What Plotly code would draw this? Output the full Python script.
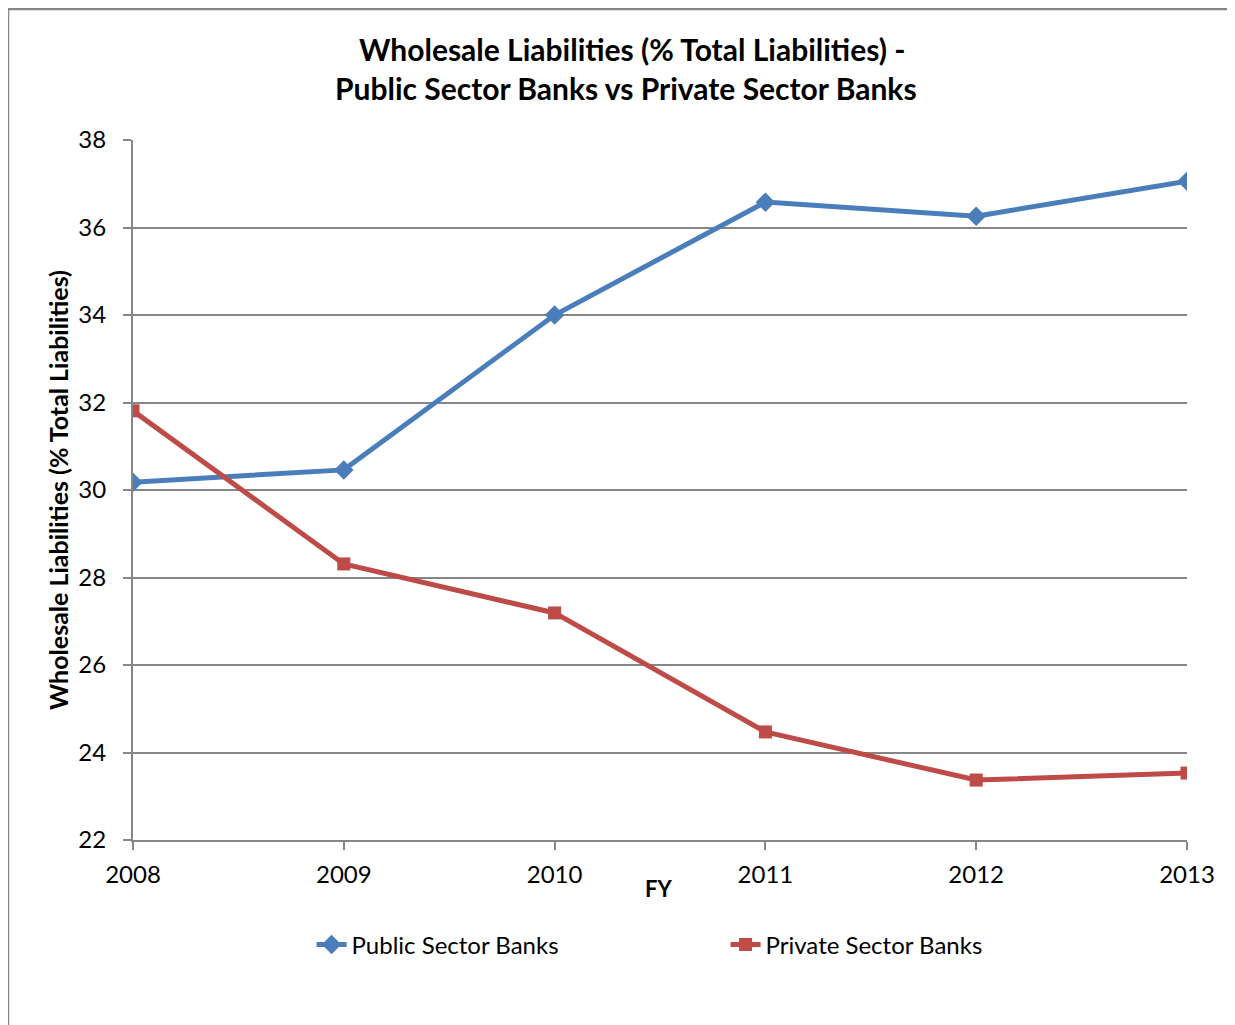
import plotly.graph_objects as go

years = [2008, 2009, 2010, 2011, 2012, 2013]
public_sector = [30.18, 30.46, 34.0, 36.58, 36.26, 37.06]
private_sector = [31.81, 28.31, 27.19, 24.47, 23.37, 23.53]
y_ticks = [22, 24, 26, 28, 30, 32, 34, 36, 38]

FONT = "Lato"
OFF = 8  # page body margin
W, H = 1235 - OFF, 1025 - OFF
L, T = 133 - OFF, 140 - OFF
R = W - (1187 - OFF)
B = H - (840 - OFF)
pw, ph = W - L - R, H - T - B

def px(x):
    return (x - OFF - L) / pw

def py(y):
    return (H - B - (y - OFF)) / ph

fig = go.Figure()
fig.add_trace(go.Scatter(
    x=years, y=public_sector, name="Public Sector Banks", mode="lines+markers",
    line=dict(color="#4A7EBB", width=5),
    marker=dict(symbol="diamond", size=15, color="#4A7EBB"),
))
fig.add_trace(go.Scatter(
    x=years, y=private_sector, name="Private Sector Banks", mode="lines+markers",
    line=dict(color="#BE4B48", width=5),
    marker=dict(symbol="square", size=13, color="#BE4B48"),
))

grid = "#868686"
fig.update_layout(
    width=W, height=H,
    margin=dict(l=L, r=R, t=T, b=B),
    plot_bgcolor="white", paper_bgcolor="white",
    font=dict(family=FONT, size=24, color="black"),
    showlegend=True,
    legend=dict(orientation="h", x=0.455 + 113 / pw, xanchor="center", y=py(945), yanchor="middle",
                font=dict(size=24, family=FONT), entrywidth=369, bgcolor="rgba(0,0,0,0)"),
    xaxis=dict(range=[2008, 2013], tickvals=years, ticktext=[str(y) for y in years],
               showgrid=False, zeroline=False, showline=True, linecolor=grid, linewidth=2,
               ticks="outside", ticklen=8, tickcolor=grid, tickwidth=2,
               ticklabelstandoff=4,
               tickfont=dict(size=24, family=FONT)),
    yaxis=dict(range=[22, 38], tickvals=y_ticks, showgrid=True, gridcolor=grid, gridwidth=1.5,
               zeroline=False, showline=True, linecolor=grid, linewidth=2,
               ticks="outside", ticklen=8, tickcolor=grid, tickwidth=2,
               ticklabelstandoff=12,
               tickfont=dict(size=24, family=FONT),
               title=dict(text="<b>Wholesale Liabilities (% Total Liabilities)</b>",
                          font=dict(size=25, family=FONT), standoff=3)),
)

fig.add_annotation(text="<b>Wholesale Liabilities (% Total Liabilities) -</b>",
                   xref="paper", yref="paper", x=px(632), y=py(49), showarrow=False,
                   font=dict(size=30, family=FONT), xanchor="center", yanchor="middle")
fig.add_annotation(text="<b>Public Sector Banks vs Private Sector Banks</b>",
                   xref="paper", yref="paper", x=px(626), y=py(88), showarrow=False,
                   font=dict(size=30, family=FONT), xanchor="center", yanchor="middle")
fig.add_annotation(text="<b>FY</b>", xref="paper", yref="paper", x=px(658), y=py(888),
                   showarrow=False, font=dict(size=22, family=FONT),
                   xanchor="center", yanchor="middle")

fig.add_shape(type="rect", xref="paper", yref="paper",
              x0=px(8), y0=py(1040), x1=px(1250), y1=py(9),
              line=dict(color="#868686", width=2.5), layer="below")

fig.write_html("out.html")
